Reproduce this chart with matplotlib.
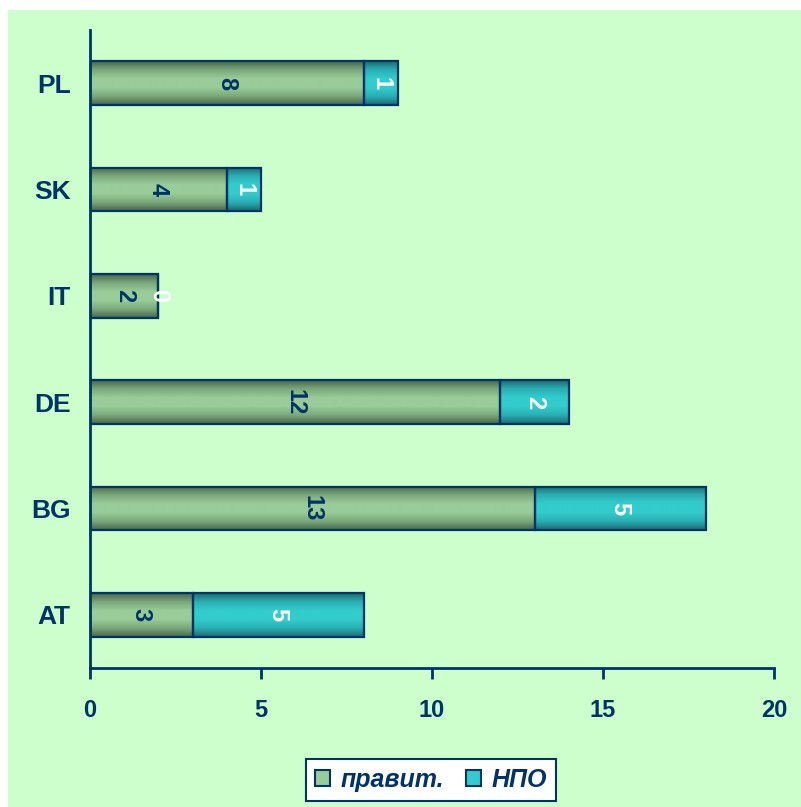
import numpy as np
import matplotlib
matplotlib.use("Agg")
import matplotlib.pyplot as plt
from matplotlib.patches import Rectangle, Patch
from matplotlib.colors import LinearSegmentedColormap

countries = ['AT', 'BG', 'DE', 'IT', 'SK', 'PL']
gov = [3, 13, 12, 2, 4, 8]
ngo = [5, 5, 2, 0, 1, 1]
series_names = ['правит.', 'НПО']
xticks = [0, 5, 10, 15, 20]

navy = '#003366'
bg = '#CCFFCC'

plt.rcParams['font.family'] = ['Liberation Sans', 'DejaVu Sans']

fig = plt.figure(figsize=(8.01, 8.07), dpi=100)
fig.patch.set_facecolor('white')
fig.patches.append(Rectangle((8 / 801, 0), 1, 1 - 10 / 807, transform=fig.transFigure,
                             facecolor=bg, edgecolor='none', zorder=-5))

ax = fig.add_axes([90 / 801, 139 / 807, 684 / 801, 638 / 807])
ax.set_facecolor('none')

green_cmap = LinearSegmentedColormap.from_list('g', ['#48664a', '#7aa87a', '#99cc99', '#99cc99', '#7aa87a', '#48664a'])
teal_cmap = LinearSegmentedColormap.from_list('t', ['#1a6a70', '#2aafb4', '#33cccc', '#33cccc', '#2aafb4', '#1a6a70'])
grad = np.linspace(0, 1, 256).reshape(-1, 1)

bar_h = 0.41
y = np.arange(len(countries))


def shaded_bars(left, width, cmap):
    bars = ax.barh(y, width, left=left, height=bar_h, color='none', edgecolor=navy,
                   linewidth=1.6, zorder=3)
    for b in bars:
        if b.get_width() <= 0:
            continue
        x0, y0 = b.get_x(), b.get_y()
        im = ax.imshow(grad, cmap=cmap, aspect='auto', zorder=2,
                       extent=[x0, x0 + b.get_width(), y0, y0 + b.get_height()],
                       interpolation='bilinear')
        clip = Rectangle((x0, y0), b.get_width(), b.get_height(), transform=ax.transData)
        im.set_clip_path(clip)
    return bars


shaded_bars(0, gov, green_cmap)
shaded_bars(gov, ngo, teal_cmap)

for i in range(len(countries)):
    ax.text(gov[i] / 2, y[i], str(gov[i]), rotation=-90, ha='center', va='center',
            fontsize=17, fontweight='bold', color=navy, zorder=4)
    ax.text(gov[i] + ngo[i] / 2, y[i], str(ngo[i]), rotation=-90, ha='center', va='center',
            fontsize=17, fontweight='bold', color='white', zorder=4)

ax.set_xlim(0, 20)
ax.set_ylim(-0.5, len(countries) - 0.5)
ax.set_xticks(xticks)
ax.set_yticks(y)
ax.set_yticklabels(countries)
for s in ['top', 'right']:
    ax.spines[s].set_visible(False)
for s in ['left', 'bottom']:
    ax.spines[s].set_color(navy)
    ax.spines[s].set_linewidth(2)
ax.tick_params(axis='x', direction='out', length=8, width=2, color=navy, labelsize=17,
               labelcolor=navy, pad=14)
ax.tick_params(axis='y', length=0, labelsize=19, labelcolor=navy, pad=14)
for lbl in ax.get_xticklabels() + ax.get_yticklabels():
    lbl.set_fontweight('bold')

handles = [Patch(facecolor='#99cc99', edgecolor=navy, linewidth=1.5),
           Patch(facecolor='#33cccc', edgecolor=navy, linewidth=1.5)]
leg = fig.legend(handles, series_names, loc='center', bbox_to_anchor=(431 / 801, 1 - 780 / 807),
                 ncol=2, frameon=True, fancybox=False, framealpha=1, handlelength=0.6,
                 handleheight=0.6, handletextpad=0.4, columnspacing=0.9, borderpad=0.35,
                 prop={'size': 18, 'weight': 'bold', 'style': 'italic'})
leg.get_frame().set_edgecolor(navy)
leg.get_frame().set_linewidth(1.5)
for t in leg.get_texts():
    t.set_color(navy)

fig.savefig('out.png', dpi=100, facecolor=fig.get_facecolor())
